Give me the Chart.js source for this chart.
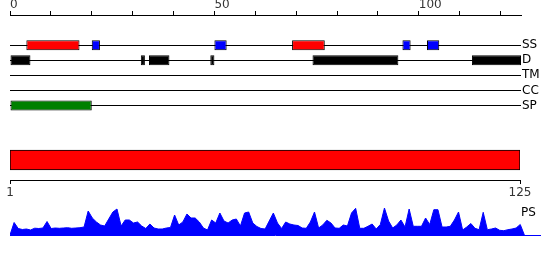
<!DOCTYPE html>
<html>
<head>
<meta charset="utf-8">
<script src="https://cdn.jsdelivr.net/npm/chart.js@4.4.1/dist/chart.umd.min.js"></script>
<style>
  body { margin: 0; background: #fff; }
  #wrap { position: relative; width: 550px; height: 260px; }
  canvas { position: absolute; left: 0; }
</style>
</head>
<body>
<div id="wrap">
  <canvas id="tracks" width="550" height="115" style="top:0px"></canvas>
  <canvas id="ruler" width="550" height="70" style="top:140px"></canvas>
  <canvas id="ps" width="550" height="31" style="top:205px"></canvas>
</div>
<script>
// sequence and feature tracks (residue ranges)
const seqLength = 125;
const topTickLabels = [0, 50, 100];
const rulerTicks = [1, 125];
const trackNames = ["SS", "D", "TM", "CC", "SP"];
const helixRanges = [[4, 17], [69, 77]];
const strandRanges = [[20, 22], [50, 53], [96, 98], [102, 105]];
const disorderRanges = [[0, 5], [32, 33], [34, 39], [49, 50], [74, 95], [113, 125]];
const signalRanges = [[0, 20]];
const psLabel = "PS";
// PS profile, one value per position
const psValues = [
  0, 12.5, 6.5, 5.5, 6, 5, 6.8, 6.5, 7, 13.5,
  6.5, 7, 6.7, 7, 7.3, 6.7, 7, 7.3, 8, 24,
  17, 13, 10, 9, 16, 23, 26, 9, 15, 15,
  12, 13, 9, 6.5, 11, 7, 6, 6, 7, 7.5,
  20, 10, 13, 21, 17, 17, 13, 7, 5, 15,
  12, 22, 14, 12, 15, 16, 9, 22, 23, 12,
  8.5, 6.5, 6, 14, 22, 12, 6.5, 13, 11, 10,
  9.5, 7, 6.7, 13, 23, 7, 10, 14.7, 12, 7,
  6.7, 10, 9, 22, 26.7, 6.7, 6.7, 8.7, 11, 6,
  10.5, 27, 14, 7, 10, 15, 8, 26, 8.7, 8.7,
  8.7, 17, 10.5, 25.3, 25.3, 8, 8, 8.7, 15, 23,
  5, 8, 11.5, 6.7, 5.3, 22.7, 5.3, 6, 7, 4.7,
  4.3, 5.3, 6, 7, 10.5, 0
];

Chart.defaults.font.family = "DejaVu Sans";
Chart.defaults.font.size = 12;
Chart.defaults.color = "#000";
Chart.defaults.animation = false;
Chart.defaults.plugins.legend.display = false;
Chart.defaults.plugins.tooltip.enabled = false;

const rowOf = (name) => trackNames.indexOf(name) + 2;

// keep label overhang from shrinking the plot area
const noPad = (axis) => {
  axis.paddingTop = 0;
  axis.paddingBottom = 0;
  axis.paddingLeft = 0;
  axis.paddingRight = 0;
};

const trackSet = (ranges, name, color) => ({
  data: ranges.map((r) => ({ x: r, y: rowOf(name) })),
  backgroundColor: color,
  borderColor: "#000",
  borderWidth: 1,
  borderSkipped: false,
  grouped: false,
  maxBarThickness: 10,
});

new Chart(document.getElementById("tracks"), {
  type: "bar",
  data: {
    datasets: [
      trackSet(helixRanges, "SS", "#ff0000"),
      trackSet(strandRanges, "SS", "#0000ff"),
      trackSet(disorderRanges, "D", "#000000"),
      trackSet(signalRanges, "SP", "#008000"),
    ],
  },
  options: {
    responsive: false,
    devicePixelRatio: 1,
    indexAxis: "y",
    events: [],
    layout: { padding: { left: 10, top: 0, bottom: 2, right: 0 } },
    scales: {
      x: {
        type: "linear",
        position: "top",
        min: 0,
        max: seqLength,
        afterFit: (axis) => { axis.height = 15; noPad(axis); },
        ticks: {
          stepSize: 10,
          includeBounds: false,
          autoSkip: false,
          maxRotation: 0,
          align: "start",
          padding: 0,
          color: "#333",
          font: { lineHeight: 1 },
          callback: (v) => (topTickLabels.includes(v) ? String(v) : ""),
        },
        grid: { drawOnChartArea: false, tickLength: 4, color: "#000" },
        border: { color: "#000" },
      },
      y: {
        type: "linear",
        position: "right",
        reverse: true,
        offset: false,
        min: 0,
        max: 6.5,
        afterFit: (axis) => { axis.width = 29; noPad(axis); },
        afterBuildTicks: (axis) => {
          axis.ticks = trackNames.map((n) => ({ value: rowOf(n) }));
        },
        ticks: {
          autoSkip: false,
          padding: 1,
          callback: (v) => trackNames[v - 2],
        },
        grid: { offset: false, drawTicks: false, color: "#000", lineWidth: 1 },
        border: { display: false },
      },
    },
  },
});

new Chart(document.getElementById("ruler"), {
  type: "bar",
  data: {
    labels: [""],
    datasets: [{
      data: [[rulerTicks[0], seqLength]],
      backgroundColor: "#ff0000",
      borderColor: "#000",
      borderWidth: 1,
      borderSkipped: false,
      barThickness: 20,
    }],
  },
  options: {
    responsive: false,
    devicePixelRatio: 1,
    indexAxis: "y",
    events: [],
    layout: { padding: { left: 10, right: 30, top: 0, bottom: 0 } },
    scales: {
      x: {
        type: "linear",
        min: rulerTicks[0],
        max: seqLength,
        afterFit: (axis) => { axis.height = 30; noPad(axis); },
        afterBuildTicks: (axis) => {
          axis.ticks = rulerTicks.map((v) => ({ value: v }));
        },
        ticks: { autoSkip: false, maxRotation: 0, padding: 2, color: "#333" },
        grid: { drawOnChartArea: false, tickLength: 4, color: "#000" },
        border: { color: "#000" },
      },
      y: { display: false },
    },
  },
});

const psLabelPlugin = {
  id: "psLabel",
  afterDraw(chart) {
    const ctx = chart.ctx;
    ctx.save();
    ctx.fillStyle = "#000";
    ctx.font = "12px 'DejaVu Sans'";
    ctx.textBaseline = "alphabetic";
    ctx.fillText(psLabel, 521, 10.5);
    ctx.restore();
  },
};

new Chart(document.getElementById("ps"), {
  type: "line",
  data: {
    datasets: [{
      data: psValues.map((v, k) => ({ x: k, y: v })),
      backgroundColor: "#0000ff",
      borderColor: "#0000ff",
      borderWidth: 1,
      pointRadius: 0,
      tension: 0,
      fill: "origin",
    }],
  },
  plugins: [psLabelPlugin],
  options: {
    responsive: false,
    devicePixelRatio: 1,
    events: [],
    layout: { padding: { left: 10, right: 10, top: 0, bottom: 1 } },
    scales: {
      x: {
        type: "linear",
        min: 0,
        max: 128.8,
        afterFit: (axis) => { axis.height = 0; noPad(axis); },
        ticks: { display: false },
        grid: { display: false, drawTicks: false },
        border: { color: "#0000ff" },
      },
      y: { display: false, min: 0, max: 30 },
    },
  },
});
</script>
</body>
</html>
